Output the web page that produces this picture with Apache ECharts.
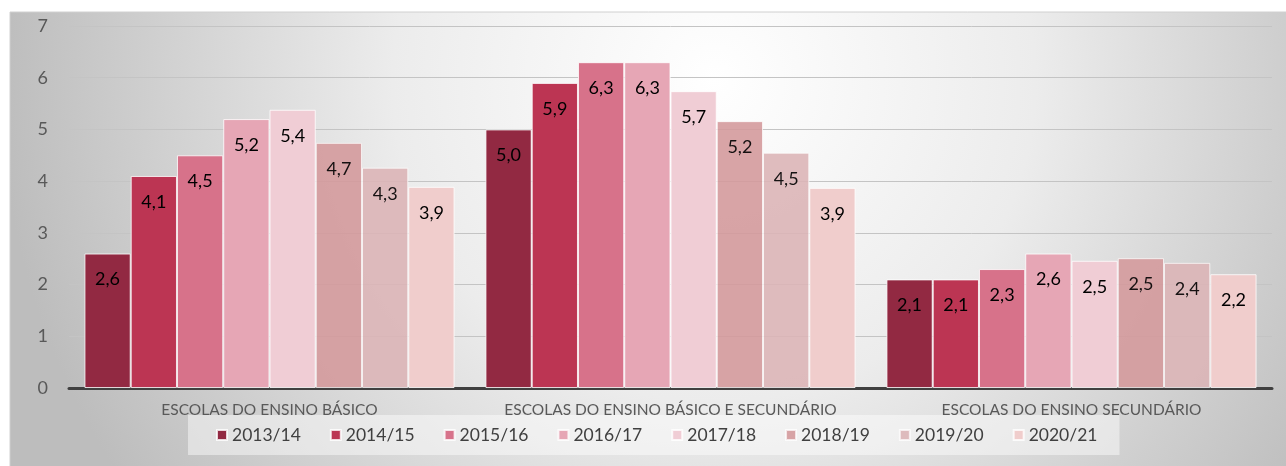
<!DOCTYPE html>
<html>
<head>
<meta charset="utf-8">
<script src="https://cdn.jsdelivr.net/npm/echarts@6/dist/echarts.min.js"></script>
<style>
html,body{margin:0;padding:0;background:#fff;}
#chart{width:1286px;height:466px;}
</style>
</head>
<body>
<div id="chart"></div>
<script>
// categorias (tipos de escola)
var categorias = ['ESCOLAS DO ENSINO BÁSICO', 'ESCOLAS DO ENSINO BÁSICO E SECUNDÁRIO', 'ESCOLAS DO ENSINO SECUNDÁRIO'];
// anos letivos
var anos = ['2013/14', '2014/15', '2015/16', '2016/17', '2017/18', '2018/19', '2019/20', '2020/21'];
// valores por ano (básico, básico e secundário, secundário)
var v1314 = [2.6, 5.0, 2.1];
var v1415 = [4.1, 5.9, 2.1];
var v1516 = [4.5, 6.3, 2.3];
var v1617 = [5.2, 6.3, 2.6];
var v1718 = [5.38, 5.74, 2.46];
var v1819 = [4.74, 5.16, 2.51];
var v1920 = [4.26, 4.55, 2.42];
var v2021 = [3.89, 3.87, 2.2];
var valores = [v1314, v1415, v1516, v1617, v1718, v1819, v1920, v2021];
var yTicks = [0, 7, 1]; // min, max, intervalo

var cores = ['#922942', '#bc3553', '#d7728a', '#e6a6b5', '#f0cdd5', '#d49a9c', '#dcb5b7', '#f0cdcc'];
var opac = [1, 1, 1, 1, 1, 0.9, 0.9, 1];

var myChart = echarts.init(document.getElementById('chart'));
var series = [];
for (var i = 0; i < anos.length; i++) {
	series.push({
		name: anos[i],
		type: 'bar',
		data: valores[i],
		barGap: '0%',
		barCategoryGap: '7.7%',
		itemStyle: {
			color: cores[i],
			opacity: opac[i],
			borderColor: 'rgba(255,255,255,0.8)',
			borderWidth: 1
		},
		label: {
			show: true,
			position: 'insideTop',
			distance: 17,
			color: '#000',
			fontFamily: 'Lato',
			fontSize: 18,
			formatter: function (p) {
				return p.value.toFixed(1).replace('.', ',');
			}
		}
	});
}

var option = {
	animation: false,
	graphic: [{
		type: 'rect',
		z: -100,
		silent: true,
		shape: { x: 10, y: 12, width: 1280, height: 460 },
		style: {
			fill: {
				type: 'radial', x: 0.55, y: 0.15, r: 1.55,
				colorStops: [
					{ offset: 0, color: '#ffffff' },
					{ offset: 0.45, color: '#ececec' },
					{ offset: 1, color: '#bdbdbd' }
				]
			},
			stroke: '#d0d0d0',
			lineWidth: 1
		}
	}],
	grid: { left: 69, right: 14, top: 26, bottom: 78 },
	legend: {
		data: anos,
		left: 188,
		top: 415,
		padding: [11, 22, 11, 28],
		backgroundColor: 'rgba(255,255,255,0.45)',
		icon: 'rect',
		itemWidth: 10,
		itemHeight: 10,
		itemGap: 29,
		textStyle: { fontFamily: 'Lato', fontSize: 17.5, color: '#404040' }
	},
	xAxis: {
		type: 'category',
		data: categorias,
		axisLine: { lineStyle: { color: '#404040', width: 3 } },
		axisTick: { show: false },
		axisLabel: { interval: 0, hideOverlap: false, color: '#595959', fontFamily: 'Lato', fontSize: 15.5, margin: 14 }
	},
	yAxis: {
		type: 'value',
		min: yTicks[0],
		max: yTicks[1],
		interval: yTicks[2],
		axisLine: { show: false },
		axisTick: { show: false },
		axisLabel: { color: '#595959', fontFamily: 'Lato', fontSize: 18, margin: 21 },
		splitLine: { lineStyle: { color: '#c4c4c4', width: 1 } }
	},
	series: series
};
myChart.setOption(option);
</script>
</body>
</html>
